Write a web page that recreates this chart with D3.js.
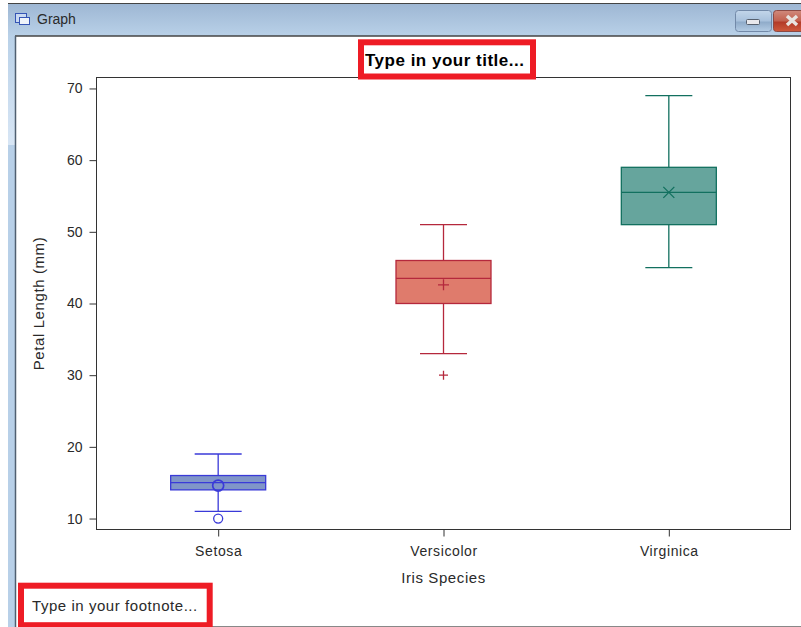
<!DOCTYPE html>
<html>
<head>
<meta charset="utf-8">
<script src="https://cdn.jsdelivr.net/npm/d3@7"></script>
<style>
  html, body { margin: 0; padding: 0; background: #fff; }
  svg { display: block; }
  text { font-family: "Liberation Sans", Arial, sans-serif; fill: #2a2a2a; }
</style>
</head>
<body>
<div id="chart"></div>
<script>
const species = ['Setosa', 'Versicolor', 'Virginica'];
const whiskerLow = [11, 33, 45];
const q1 = [14, 40, 51];
const medians = [15, 43.5, 55.5];
const q3 = [16, 46, 59];
const whiskerHigh = [19, 51, 69];
const means = [14.6, 42.6, 55.5];
const outliers = [[10], [30], []];
const yTicks = [10, 20, 30, 40, 50, 60, 70];
const lineColors = ['#3a3ad8', '#b5283c', '#12705f'];
const fillColors = ['#8095c8', '#df7b6c', '#66a59d'];
const symbols = ['circle', 'plus', 'cross'];

const width = 801, height = 627;
const frame = { left: 96.5, right: 790.5, top: 77.5, bottom: 529.5 };

const svg = d3.select('#chart').append('svg')
  .attr('width', width)
  .attr('height', height);

// Window chrome
const defs = svg.append('defs');
const gradient = (id, stops) => {
  const g = defs.append('linearGradient').attr('id', id).attr('x2', 0).attr('y2', 1);
  stops.forEach(([o, c]) => g.append('stop').attr('offset', o).attr('stop-color', c));
};
gradient('titlebar', [[0, '#9db6d3'], [1, '#b9d1e8']]);
gradient('sidebar', [[0, '#b9d1e8'], [1, '#d8e6f5']]);
gradient('minbtn', [[0, '#c3d6ea'], [0.5, '#a8c1dc'], [0.55, '#8fabc9'], [1, '#b4cce4']]);
gradient('closebtn', [[0, '#d08a7c'], [0.5, '#c2604e'], [0.55, '#b23a28'], [1, '#cf5a3c']]);

svg.append('rect').attr('x', 8).attr('y', 3).attr('width', width - 8).attr('height', 33).attr('fill', 'url(#titlebar)');
svg.append('rect').attr('x', 8).attr('y', 36).attr('width', 7).attr('height', 109).attr('fill', 'url(#sidebar)');
svg.append('rect').attr('x', 8).attr('y', 145).attr('width', 7).attr('height', height - 145).attr('fill', '#b8d0e8');
svg.append('line').attr('x1', 8).attr('x2', width).attr('y1', 3.5).attr('y2', 3.5).attr('stroke', '#444');
svg.append('line').attr('x1', 15).attr('x2', width).attr('y1', 36).attr('y2', 36).attr('stroke', '#444').attr('stroke-width', 1.5);
svg.append('line').attr('x1', 15.5).attr('x2', 15.5).attr('y1', 36).attr('y2', height).attr('stroke', '#4f5f70').attr('stroke-width', 1.5);
svg.append('line').attr('x1', 212).attr('x2', width).attr('y1', 626.5).attr('y2', 626.5).attr('stroke', '#888');

// Title bar icon
svg.append('rect').attr('x', 15.5).attr('y', 13.5).attr('width', 11).attr('height', 9).attr('fill', '#c9d9f2').attr('stroke', '#3555b5');
svg.append('rect').attr('x', 19.5).attr('y', 17.5).attr('width', 10).attr('height', 7).attr('fill', '#eef3fa').attr('stroke', '#3555b5');
svg.append('text').attr('x', 37).attr('y', 24).attr('font-size', 14).text('Graph');

// Minimize and close buttons
svg.append('rect').attr('x', 735.5).attr('y', 10.5).attr('width', 36).attr('height', 21).attr('rx', 3)
  .attr('fill', 'url(#minbtn)').attr('stroke', '#7289a8');
svg.append('rect').attr('x', 746.5).attr('y', 19.5).attr('width', 13).attr('height', 5).attr('rx', 1)
  .attr('fill', '#e8e8ec').attr('stroke', '#56606e');
svg.append('rect').attr('x', 773.5).attr('y', 10.5).attr('width', 34).attr('height', 21).attr('rx', 3)
  .attr('fill', 'url(#closebtn)').attr('stroke', '#8c4a44');
svg.append('path').attr('d', 'M787,16L797,25M797,16L787,25').attr('stroke', '#e8e4e0').attr('stroke-width', 3.5).attr('fill', 'none');

// Scales
const yScale = d3.scaleLinear()
  .domain([8.47, 71.53])
  .range([frame.bottom, frame.top]);
const xScale = d3.scalePoint()
  .domain(species)
  .range([frame.left, frame.right])
  .padding(0.54);

const boxWidth = 95;
const capWidth = 47;

// Frame and axes
svg.append('rect')
  .attr('x', frame.left).attr('y', frame.top)
  .attr('width', frame.right - frame.left).attr('height', frame.bottom - frame.top)
  .attr('fill', '#fff').attr('stroke', '#333');

const yAxis = svg.append('g')
  .attr('transform', `translate(${frame.left},0)`)
  .call(d3.axisLeft(yScale).tickValues(yTicks).tickSize(7).tickPadding(7));
const xAxis = svg.append('g')
  .attr('transform', `translate(0,${frame.bottom})`)
  .call(d3.axisBottom(xScale).tickSize(7).tickPadding(9.5));
[yAxis, xAxis].forEach(a => {
  a.select('.domain').remove();
  a.selectAll('line').attr('stroke', '#333');
  a.selectAll('text')
    .attr('font-size', 14)
    .attr('font-family', '"Liberation Sans", Arial, sans-serif')
    .style('fill', '#2a2a2a');
});
xAxis.selectAll('text').attr('letter-spacing', 0.6);

svg.append('text')
  .attr('transform', 'translate(44,303.5) rotate(-90)')
  .attr('text-anchor', 'middle')
  .attr('font-size', 15)
  .attr('letter-spacing', 0.6)
  .text('Petal Length (mm)');
svg.append('text')
  .attr('x', 443.5).attr('y', 583)
  .attr('text-anchor', 'middle')
  .attr('font-size', 15)
  .attr('letter-spacing', 0.6)
  .text('Iris Species');

// Boxes
const marker = (sel, kind, r) => {
  if (kind === 'circle') sel.append('circle').attr('r', r);
  else if (kind === 'plus') sel.append('path').attr('d', `M${-r},0H${r}M0,${-r}V${r}`);
  else sel.append('path').attr('d', `M${-r},${-r}L${r},${r}M${-r},${r}L${r},${-r}`);
};

species.forEach((name, i) => {
  const cx = xScale(name);
  const g = svg.append('g')
    .attr('stroke', lineColors[i])
    .attr('fill', 'none')
    .attr('stroke-width', 1.3);

  g.append('line').attr('x1', cx).attr('x2', cx).attr('y1', yScale(whiskerHigh[i])).attr('y2', yScale(q3[i]));
  g.append('line').attr('x1', cx).attr('x2', cx).attr('y1', yScale(q1[i])).attr('y2', yScale(whiskerLow[i]));
  [whiskerLow[i], whiskerHigh[i]].forEach(v => {
    g.append('line')
      .attr('x1', cx - capWidth / 2).attr('x2', cx + capWidth / 2)
      .attr('y1', yScale(v)).attr('y2', yScale(v));
  });
  g.append('rect')
    .attr('x', cx - boxWidth / 2).attr('width', boxWidth)
    .attr('y', yScale(q3[i])).attr('height', yScale(q1[i]) - yScale(q3[i]))
    .attr('fill', fillColors[i]);
  g.append('line')
    .attr('x1', cx - boxWidth / 2).attr('x2', cx + boxWidth / 2)
    .attr('y1', yScale(medians[i])).attr('y2', yScale(medians[i]));

  g.append('g').attr('transform', `translate(${cx},${yScale(means[i])})`)
    .attr('stroke-width', i === 0 ? 1.7 : 1.3)
    .call(marker, symbols[i], 5.5);
  outliers[i].forEach(v => {
    g.append('g').attr('transform', `translate(${cx},${yScale(v)})`)
      .call(marker, symbols[i], 4.5);
  });
});

// Red callouts
svg.append('rect').attr('x', 361).attr('y', 42.3).attr('width', 172).attr('height', 34.2)
  .attr('fill', '#fff').attr('stroke', '#ee1c25').attr('stroke-width', 6);
svg.append('text').attr('x', 365).attr('y', 66)
  .attr('font-size', 17).attr('font-weight', 700)
  .attr('letter-spacing', 0.5)
  .style('fill', '#000')
  .text('Type in your title...');
svg.append('rect').attr('x', 21).attr('y', 585.7).attr('width', 188.7).attr('height', 39.5)
  .attr('fill', '#fff').attr('stroke', '#ee1c25').attr('stroke-width', 6);
svg.append('text').attr('x', 32).attr('y', 611)
  .attr('font-size', 15).attr('letter-spacing', 0.55)
  .text('Type in your footnote...');
</script>
</body>
</html>
